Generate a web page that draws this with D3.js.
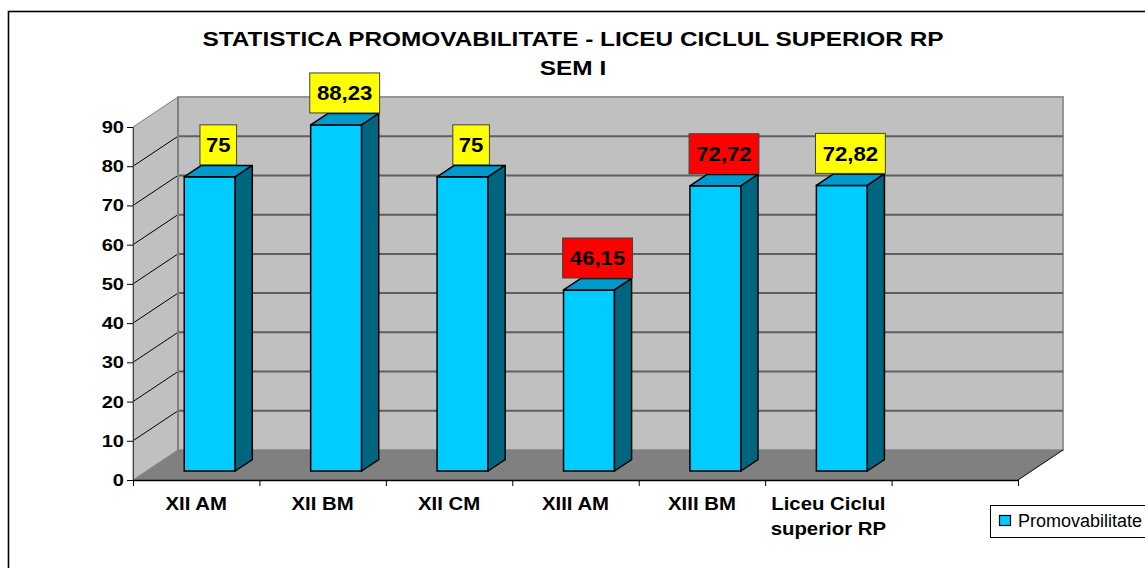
<!DOCTYPE html>
<html>
<head>
<meta charset="utf-8">
<script src="https://cdn.jsdelivr.net/npm/d3@7"></script>
<style>
  body { margin: 0; background: #fff; }
  text { font-family: "Liberation Sans", Arial, sans-serif; }
</style>
</head>
<body>
<div id="main"></div>
<script>
// chart data
var titleLines = ['STATISTICA PROMOVABILITATE - LICEU CICLUL SUPERIOR RP', 'SEM I'];
var categories = [['XII AM'], ['XII BM'], ['XII CM'], ['XIII AM'], ['XIII BM'], ['Liceu Ciclul', 'superior RP']];
var values = [75, 88.23, 75, 46.15, 72.72, 72.82];
var valueLabels = ['75', '88,23', '75', '46,15', '72,72', '72,82'];
var flagged = [false, false, false, true, true, false];
var yTicks = [0, 10, 20, 30, 40, 50, 60, 70, 80, 90];
var seriesName = 'Promovabilitate';

var W = 1145, H = 568;
var left = 133, right = 1018, base = 480, top90 = 127;
var depthX = 45, depthY = -30;
var slots = categories.length + 1; // one empty slot on the right

// bold text in the original is drawn a bit wider than Arial
var stretch = function(sel, k) {
    sel.each(function() {
        var w = this.getComputedTextLength();
        d3.select(this).attr('textLength', w * k).attr('lengthAdjust', 'spacingAndGlyphs');
    });
};

var svg = d3.select('#main').append('svg')
    .attr('width', W).attr('height', H);

// outer frame
svg.append('rect')
    .attr('x', 8.5).attr('y', 11.5)
    .attr('width', W + 20).attr('height', H + 20)
    .style('fill', 'none').style('stroke', '#000').style('stroke-width', 1.6);

var y = d3.scaleLinear().domain([0, 90]).range([base, top90]);
var x = d3.scaleBand().domain(d3.range(slots)).range([left, right]);
var xEdges = d3.scaleLinear().domain([0, slots]).range([left, right]);

var pt = function(a) { return a.map(function(p) { return p.join(','); }).join(' '); };

// left wall
svg.append('polygon')
    .attr('points', pt([[left, base], [left, y(90)], [left + depthX, y(90) + depthY], [left + depthX, base + depthY]]))
    .style('fill', '#c0c0c0').style('stroke', '#808080').style('stroke-width', 1);

// back wall
svg.append('polygon')
    .attr('points', pt([[left + depthX, y(90) + depthY], [right + depthX, y(90) + depthY], [right + depthX, base + depthY], [left + depthX, base + depthY]]))
    .style('fill', '#c0c0c0').style('stroke', '#959595').style('stroke-width', 2);

// floor
svg.append('polygon')
    .attr('points', pt([[left, base], [right, base], [right + depthX, base + depthY], [left + depthX, base + depthY]]))
    .style('fill', '#808080');
svg.append('line')
    .attr('x1', right).attr('y1', base).attr('x2', right + depthX).attr('y2', base + depthY)
    .style('stroke', '#000').style('stroke-width', 1);

// gridlines
var inner = yTicks.filter(function(v) { return v > 0 && v < 90; });
svg.selectAll('.grid-back').data(inner).enter().append('line')
    .attr('class', 'grid-back')
    .attr('x1', left + depthX).attr('x2', right + depthX)
    .attr('y1', function(d) { return y(d) + depthY; })
    .attr('y2', function(d) { return y(d) + depthY; })
    .style('stroke', '#5f5f5f').style('stroke-width', 2);
svg.selectAll('.grid-side').data(inner).enter().append('line')
    .attr('class', 'grid-side')
    .attr('x1', left).attr('x2', left + depthX)
    .attr('y1', function(d) { return y(d); })
    .attr('y2', function(d) { return y(d) + depthY; })
    .style('stroke', '#000').style('stroke-width', 1);
svg.append('line')
    .attr('x1', left + depthX).attr('x2', left + depthX)
    .attr('y1', y(90) + depthY).attr('y2', base + depthY)
    .style('stroke', '#808080').style('stroke-width', 2);

// axes
var yAxis = svg.append('g')
    .attr('transform', 'translate(' + left + ',0)')
    .call(d3.axisLeft(y).tickValues(yTicks).tickSize(6).tickSizeOuter(0).tickPadding(3));
yAxis.selectAll('text')
    .style('font-size', '17px').style('font-weight', 'bold').style('fill', '#000')
    .style('font-family', '"Liberation Sans", Arial, sans-serif');
stretch(yAxis.selectAll('text'), 1.18);
yAxis.select('.domain').style('stroke', '#404040');

var xAxis = svg.append('g')
    .attr('transform', 'translate(0,' + base + ')')
    .call(d3.axisBottom(xEdges).tickValues(d3.range(slots + 1)).tickFormat('').tickSize(6).tickSizeOuter(0));
xAxis.select('.domain').style('stroke', '#000').style('stroke-width', 1.5);

svg.selectAll('.xlab').data(categories).enter().append('text')
    .attr('class', 'xlab')
    .attr('text-anchor', 'middle')
    .style('font-size', '18.5px').style('font-weight', 'bold')
    .each(function(d, i) {
        var t = d3.select(this);
        d.forEach(function(line, k) {
            t.append('tspan')
                .attr('x', x(i) + x.bandwidth() / 2)
                .attr('y', 510 + k * 25)
                .text(line);
        });
    });
svg.selectAll('.xlab tspan').each(function() {
    var w = this.getComputedTextLength();
    d3.select(this).attr('textLength', w * 1.1).attr('lengthAdjust', 'spacingAndGlyphs');
});

// bars
var frontDepth = 0.3, backDepth = 0.68;
var barW = x.bandwidth() * 0.403;
var bdx = (backDepth - frontDepth) * depthX, bdy = (backDepth - frontDepth) * depthY;
var bars = values.map(function(v, i) {
    var fx = x(i) + (x.bandwidth() - barW) / 2 + frontDepth * depthX;
    var fb = base + frontDepth * depthY;
    var ft = y(v) + frontDepth * depthY;
    return { fx: fx, fb: fb, ft: ft, i: i };
});

var barG = svg.selectAll('.bar').data(bars).enter().append('g').attr('class', 'bar');
barG.append('rect')
    .attr('x', function(d) { return d.fx; })
    .attr('y', function(d) { return d.ft; })
    .attr('width', barW)
    .attr('height', function(d) { return d.fb - d.ft; })
    .style('fill', '#00ccff').style('stroke', '#000').style('stroke-width', 1.5);
barG.append('polygon')
    .attr('points', function(d) {
        return pt([[d.fx, d.ft], [d.fx + barW, d.ft], [d.fx + barW + bdx, d.ft + bdy], [d.fx + bdx, d.ft + bdy]]);
    })
    .style('fill', '#0099cc').style('stroke', '#000').style('stroke-width', 1.5).style('stroke-linejoin', 'round');
barG.append('polygon')
    .attr('points', function(d) {
        return pt([[d.fx + barW, d.ft], [d.fx + barW + bdx, d.ft + bdy], [d.fx + barW + bdx, d.fb + bdy], [d.fx + barW, d.fb]]);
    })
    .style('fill', '#006680').style('stroke', '#000').style('stroke-width', 1.5).style('stroke-linejoin', 'round');

// value labels
var labG = svg.selectAll('.vlab').data(bars).enter().append('g').attr('class', 'vlab');
labG.each(function(d) {
    var g = d3.select(this);
    var cx = d.fx + barW / 2 + bdx / 2, cy = d.ft - 32;
    var box = g.append('rect');
    var txt = g.append('text')
        .attr('x', cx).attr('y', cy + 7.5)
        .attr('text-anchor', 'middle')
        .style('font-size', '20.5px').style('font-weight', 'bold')
        .text(valueLabels[d.i]);
    stretch(txt, 1.08);
    var tw = txt.node().getComputedTextLength() * 1.08 + 10;
    box.attr('x', cx - tw / 2).attr('y', cy - 20)
        .attr('width', tw).attr('height', 40)
        .style('fill', flagged[d.i] ? '#ff0000' : '#ffff00')
        .style('stroke', '#404040').style('stroke-width', 1);
});

// title
var t1 = svg.append('text')
    .attr('x', 573).attr('y', 46)
    .attr('text-anchor', 'middle')
    .style('font-size', '20px').style('font-weight', 'bold')
    .text(titleLines[0]);
var k = 741 / t1.node().getComputedTextLength();
t1.attr('textLength', 741).attr('lengthAdjust', 'spacingAndGlyphs');
var t2 = svg.append('text')
    .attr('x', 573).attr('y', 75)
    .attr('text-anchor', 'middle')
    .style('font-size', '20px').style('font-weight', 'bold')
    .text(titleLines[1]);
stretch(t2, k);

// legend
svg.append('rect')
    .attr('x', 990.5).attr('y', 505.5).attr('width', 200).attr('height', 32)
    .style('fill', '#fff').style('stroke', '#000').style('stroke-width', 1);
svg.append('rect')
    .attr('x', 999.5).attr('y', 515.5).attr('width', 11).attr('height', 10)
    .style('fill', '#00ccff').style('stroke', '#000').style('stroke-width', 1.2);
svg.append('text')
    .attr('x', 1018).attr('y', 527)
    .style('font-size', '18px')
    .text(seriesName);
</script>
</body>
</html>
